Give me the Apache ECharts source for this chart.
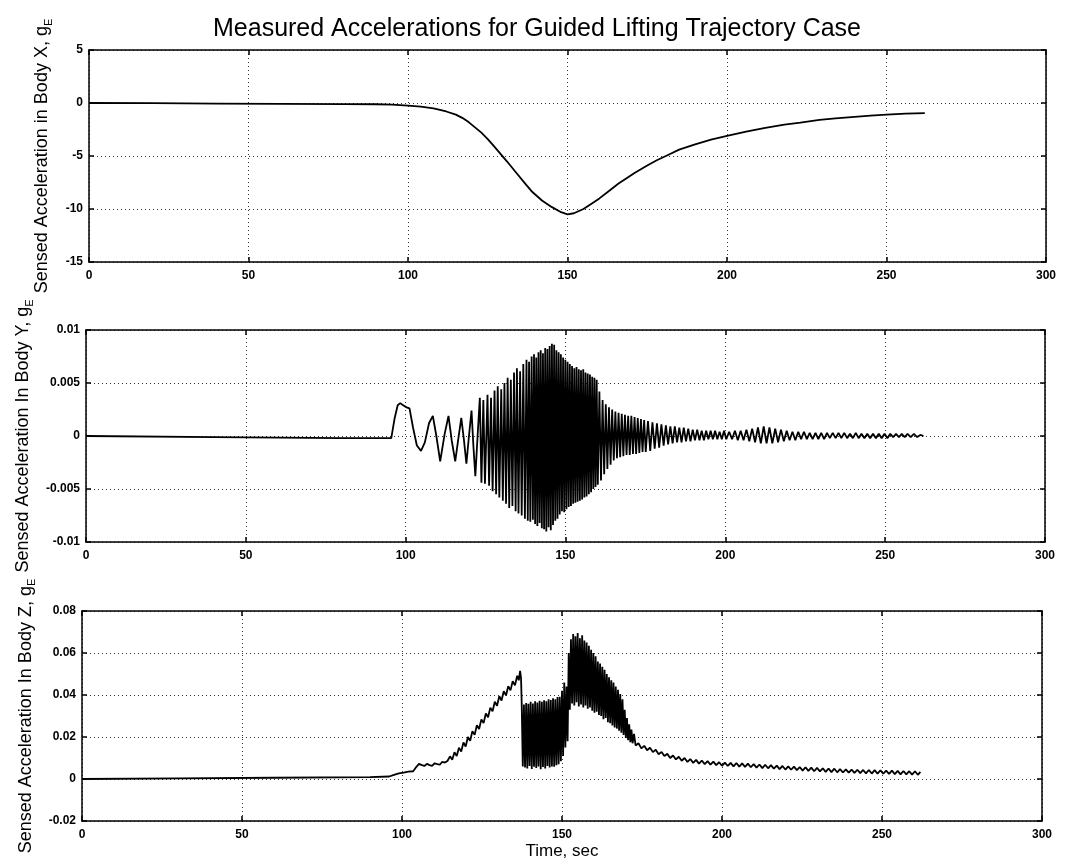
<!DOCTYPE html>
<html>
<head>
<meta charset="utf-8">
<script src="https://cdn.jsdelivr.net/npm/echarts@6/dist/echarts.min.js"></script>
<style>
html,body{margin:0;padding:0;background:#fff;}
#c{width:1074px;height:867px;}
</style>
</head>
<body>
<div id="c"></div>
<script>
// ---------- DATA ----------
var titleText = 'Measured Accelerations for Guided Lifting Trajectory Case';
var xTicks = [0, 50, 100, 150, 200, 250, 300];
var yNames = ['Sensed Acceleration in Body X, g', 'Sensed Acceleration In Body Y, g', 'Sensed Acceleration In Body Z, g'];
var yRanges = [[-15, 5, 5], [-0.01, 0.01, 0.005], [-0.02, 0.08, 0.02]];
var xTitle = 'Time, sec';

// Body X acceleration [time s, g]
var accelX = [[0,0],[20,-0.02],[40,-0.05],[60,-0.08],[80,-0.1],[90,-0.12],[95,-0.15],[100,-0.25],[104,-0.35],[108,-0.5],[112,-0.8],[115,-1.1],[117,-1.4],[119,-1.8],[121,-2.3],[123,-2.8],[125,-3.4],[127,-4.1],[129,-4.8],[131,-5.5],[134,-6.6],[137,-7.7],[139,-8.4],[142,-9.2],[145,-9.8],[148,-10.3],[150,-10.5],[152,-10.4],[155,-10.0],[158,-9.4],[160,-9.0],[163,-8.3],[166,-7.6],[169,-7.0],[171,-6.6],[175,-5.9],[178,-5.4],[181.5,-4.9],[185,-4.4],[190,-3.9],[195,-3.45],[200,-3.1],[206,-2.7],[212,-2.35],[218,-2.05],[223,-1.85],[229,-1.6],[234,-1.45],[240,-1.3],[245,-1.2],[250,-1.1],[256,-1.0],[262,-0.95]];

// Body Y acceleration [time s, g]
var accelY = [[0,0],[40,-0.0001],[80,-0.0002],[95.5,-0.0002],[96.5,0.0016],[97.5,0.0029],[98.3,0.0031],[99.2,0.0029],[100.3,0.0027],[101.2,0.0026],[102.3,0.0008],[103.5,-0.0009],[104.8,-0.0014],[106,-0.0006],[107.3,0.0012],[108.5,0.0019],[109.6,0.0],[110.8,-0.0024],[112.2,0.0002],[113.4,0.0019],[114.4,-0.0004],[115.5,-0.0024],[116.5,-0.0002],[117.4,0.0017],[118.2,-0.0003],[119,-0.0026],[119.8,0.0],[120.6,0.0024],[121.2,-0.001],[121.8,-0.0038],[122.5,0.0],[123.2,0.0036],[123.7,-0.0044],[124.3,0.0034],[124.8,-0.0045],[125.6,0.0039],[126.1,-0.0047],[126.7,0.0036],[127.2,-0.0052],[127.8,0.0043],[128.3,-0.0055],[128.8,0.0047],[129.3,-0.0058],[129.9,0.0044],[130.4,-0.0061],[130.9,0.0050],[131.4,-0.0064],[131.9,0.0055],[132.4,-0.0068],[132.9,0.0053],[133.4,-0.0066],[133.9,0.0060],[134.4,-0.0071],[134.8,0.0064],[135.3,-0.0073],[135.8,0.0061],[136.3,-0.0075],[136.8,0.0068],[137.3,-0.0078],[137.8,0.0072],[138.2,-0.0080],[138.6,0.0070],[139.0,-0.0081],[139.4,0.0075],[139.8,-0.0079],
[140.15,0.0077],[140.5,-0.0083],[140.85,0.0074],[141.2,-0.0085],[141.55,0.0079],[141.9,-0.0082],[142.25,0.0081],[142.6,-0.0087],[142.95,0.0078],[143.3,-0.0088],[143.65,0.0083],[144.0,-0.0090],[144.35,0.0082],[144.7,-0.0086],[145.05,0.0085],[145.4,-0.0089],[145.75,0.0087],[146.1,-0.0084],[146.45,0.0086],[146.8,-0.0080],[147.15,0.0081],[147.5,-0.0078],[147.85,0.0079],[148.2,-0.0074],[148.55,0.0077],[148.9,-0.0071],[149.25,0.0074],[149.6,-0.0072],[149.95,0.0072],[150.3,-0.0069],[150.65,0.0070],[151.0,-0.0067],[151.35,0.0068],[151.7,-0.0066],[152.05,0.0066],[152.4,-0.0064],[152.75,0.0064],[153.1,-0.0063],[153.45,0.0065],[153.8,-0.0062],[154.15,0.0063],[154.5,-0.0061],[154.85,0.0062],[155.2,-0.0060],[155.55,0.0063],[155.9,-0.0058],[156.25,0.0060],[156.6,-0.0057],[156.95,0.0059],[157.3,-0.0055],[157.65,0.0058],[158.0,-0.0053],[158.35,0.0056],[158.7,-0.0050],[159.05,0.0055],[159.4,-0.0048],[159.75,0.0053],[160.1,-0.0046],
[160.6,0.0042],[161.1,-0.0042],[161.6,0.0034],[162.1,-0.0036],[162.6,0.0030],[163.1,-0.0031],[163.6,0.0027],[164.1,-0.0027],[164.6,0.0025],[165.1,-0.0023],[165.6,0.0023],[166.1,-0.0021],[166.6,0.0022],[167.1,-0.0020],[167.6,0.0021],[168.1,-0.0019],[168.6,0.0020],[169.1,-0.0018],[169.6,0.0019],[170.1,-0.0018],[170.6,0.0019],[171.1,-0.0017],[171.6,0.0018],[172.1,-0.0017],[172.6,0.0017],[173.1,-0.0016],[173.6,0.0016],[174.1,-0.0015],[174.6,0.0015],[175.1,-0.0015],
[175.8,0.0014],[176.5,-0.0014],[177.2,0.0013],[177.9,-0.0012],[178.6,0.0012],[179.3,-0.0011],[180,0.0011],[180.7,-0.0009],[181.4,0.0010],[182.1,-0.0008],[182.8,0.0009],[183.5,-0.0007],[184.2,0.0009],[184.9,-0.0006],[185.6,0.0008],[186.3,-0.0006],[187,0.0008],[187.7,-0.0005],[188.4,0.0007],[189.1,-0.0005],[189.8,0.0006],[190.5,-0.0004],[191.2,0.0006],[191.9,-0.0004],[192.6,0.0005],[193.3,-0.0004],[194,0.0005],[194.7,-0.0003],[195.4,0.0005],[196.1,-0.0003],[196.8,0.0005],[197.5,-0.0003],[198.2,0.0004],[198.9,-0.0003],[199.6,0.0005],[200.3,-0.0003],
[201.2,0.0004],[202.1,-0.0003],[203,0.0005],[203.9,-0.0004],[204.8,0.0005],[205.7,-0.0004],[206.6,0.0006],[207.5,-0.0005],[208.4,0.0007],[209.3,-0.0006],[210.2,0.0008],[211.1,-0.0007],[212,0.0009],[212.9,-0.0007],[213.8,0.0008],[214.7,-0.0007],[215.6,0.0007],[216.5,-0.0006],[217.4,0.0006],[218.3,-0.0005],[219.2,0.0005],[220.1,-0.0004],[221,0.0004],[221.9,-0.0004],[222.8,0.0004],[223.7,-0.0003],[224.6,0.0004],[225.5,-0.0003],[226.4,0.0003],[227.3,-0.0003],[228.2,0.0003],[229.1,-0.0003],[230,0.0003],[230.9,-0.0003],[231.8,0.0003],[232.7,-0.0002],[233.6,0.0003],[234.5,-0.0002],[235.4,0.0003],[236.3,-0.0002],[237.2,0.0003],[238.1,-0.0002],[239,0.0002],[239.9,-0.0002],[240.8,0.0003],[241.7,-0.0002],[242.6,0.0002],[243.5,-0.0002],[244.4,0.0002],[245.3,-0.0002],[246.2,0.0002],[247.1,-0.0002],[248,0.0002],[248.9,-0.0002],[249.8,0.0002],[250.7,-0.0002],[251.6,0.0002],[252.5,-0.0001],[253.4,0.0002],[254.3,-0.0001],[255.2,0.0002],[256.1,-0.0001],[257,0.0002],[258,-0.0001],[259,0.0002],[260,-0.0001],[261,0.0001],[262,0.0]];

// Body Z acceleration [time s, g]
var accelZ = [[0,0],[30,0.0003],[60,0.0006],[90,0.0009],[96,0.0012],[97.5,0.002],[99,0.0027],[100.5,0.003],[102,0.0035],[103.5,0.0037],[104.5,0.0058],[105.3,0.0072],[106.2,0.0066],[107,0.0062],[107.8,0.0072],[108.6,0.0066],[109.4,0.0063],[110.2,0.0075],[111,0.0071],[111.8,0.0068],[112.6,0.0082],[113.4,0.0078],[114.2,0.0086],
[115.0,0.0108],[115.7,0.0092],[116.4,0.0127],[117.1,0.0110],[117.8,0.0149],[118.5,0.0131],[119.2,0.0174],[119.9,0.0155],[120.6,0.0200],[121.3,0.0182],[122.0,0.0228],[122.7,0.0210],[123.4,0.0256],[124.1,0.0238],[124.8,0.0284],[125.5,0.0266],[126.2,0.0312],[126.9,0.0294],[127.6,0.0340],[128.3,0.0322],[129.0,0.0368],[129.7,0.0349],[130.4,0.0394],[131.1,0.0374],[131.8,0.0418],[132.5,0.0398],[133.2,0.0442],[133.9,0.0422],[134.6,0.0466],[135.3,0.0446],[136.0,0.0492],[136.5,0.0470],[136.9,0.0515],[137.2,0.0480],
[137.4,0.0365],[137.75,0.0060],[138.1,0.0355],[138.45,0.0055],[138.8,0.0362],[139.15,0.0050],[139.5,0.0358],[139.85,0.0062],[140.2,0.0368],[140.55,0.0048],[140.9,0.0360],[141.25,0.0058],[141.6,0.0370],[141.95,0.0052],[142.3,0.0364],[142.65,0.0060],[143.0,0.0372],[143.35,0.0047],[143.7,0.0368],[144.05,0.0057],[144.4,0.0375],[144.75,0.0050],[145.1,0.0370],[145.45,0.0062],[145.8,0.0380],[146.15,0.0055],[146.5,0.0376],[146.85,0.0060],[147.2,0.0385],[147.55,0.0058],[147.9,0.0380],[148.25,0.0065],[148.6,0.0390],[148.95,0.0070],[149.3,0.0392],[149.65,0.0085],[150.0,0.0420],[150.35,0.0110],[150.7,0.0460],[151.05,0.0150],[151.4,0.0440],[151.75,0.0180],
[152.1,0.0600],[152.45,0.0330],[152.8,0.0665],[153.15,0.0360],[153.5,0.0690],[153.85,0.0350],[154.2,0.0680],[154.55,0.0365],[154.9,0.0695],[155.25,0.0345],[155.6,0.0670],[155.95,0.0355],[156.3,0.0685],[156.65,0.0340],[157.0,0.0660],[157.35,0.0350],[157.7,0.0650],[158.05,0.0335],[158.4,0.0635],[158.75,0.0340],[159.1,0.0615],[159.45,0.0325],[159.8,0.0600],[160.15,0.0315],[160.5,0.0585],[160.85,0.0320],[161.2,0.0560],[161.55,0.0305],[161.9,0.0550],[162.25,0.0300],[162.6,0.0535],[162.95,0.0285],[163.3,0.0520],[163.65,0.0290],[164.0,0.0500],[164.35,0.0270],[164.7,0.0485],[165.05,0.0265],[165.4,0.0470],[165.75,0.0255],[166.1,0.0460],[166.45,0.0245],[166.8,0.0440],[167.15,0.0240],[167.5,0.0425],[167.85,0.0230],[168.2,0.0405],[168.55,0.0220],[168.9,0.0380],[169.25,0.0210],[169.6,0.0330],[169.95,0.0195],[170.3,0.0290],[170.65,0.0185],[171.0,0.0260],[171.35,0.0175],[171.7,0.0235],[172.05,0.0170],[172.5,0.0215],[173.0,0.0160],
[173.9,0.0170],[174.8,0.0146],[175.7,0.0158],[176.6,0.0137],[177.5,0.0149],[178.4,0.0128],[179.3,0.0139],[180.2,0.0118],[181.1,0.0129],[182.0,0.0109],[182.9,0.0120],[183.8,0.0100],[184.7,0.0112],[185.6,0.0093],[186.5,0.0106],[187.4,0.0087],[188.3,0.0100],[189.2,0.0081],[190.1,0.0095],[191.0,0.0077],[191.9,0.0091],[192.8,0.0073],[193.7,0.0088],[194.6,0.0071],[195.5,0.0085],[196.4,0.0068],[197.3,0.0083],[198.2,0.0066],[199.1,0.0080],[200.0,0.0063],[200.9,0.0078],[201.8,0.0062],[202.7,0.0077],[203.6,0.0060],[204.5,0.0076],[205.4,0.0059],[206.3,0.0074],[207.2,0.0058],[208.1,0.0073],[209.0,0.0056],[209.9,0.0071],[210.8,0.0054],[211.7,0.0069],[212.6,0.0052],[213.5,0.0068],[214.4,0.0051],[215.3,0.0066],[216.2,0.0049],[217.1,0.0064],[218.0,0.0047],[218.9,0.0062],[219.8,0.0045],[220.7,0.0060],[221.6,0.0044],[222.5,0.0059],[223.4,0.0042],[224.3,0.0057],[225.2,0.0040],[226.1,0.0056],[227.0,0.0039],[227.9,0.0054],[228.8,0.0037],[229.7,0.0053],[230.6,0.0036],[231.5,0.0051],[232.4,0.0034],[233.3,0.0050],[234.2,0.0033],[235.1,0.0049],[236.0,0.0032],[236.9,0.0047],[237.8,0.0031],[238.7,0.0046],[239.6,0.0030],[240.5,0.0045],[241.4,0.0029],[242.3,0.0044],[243.2,0.0028],[244.1,0.0043],[245.0,0.0027],[245.9,0.0043],[246.8,0.0026],[247.7,0.0042],[248.6,0.0026],[249.5,0.0041],[250.4,0.0025],[251.3,0.0040],[252.2,0.0024],[253.1,0.0040],[254.0,0.0023],[254.9,0.0039],[255.8,0.0022],[256.7,0.0038],[257.6,0.0022],[258.5,0.0037],[259.4,0.0021],[260.3,0.0037],[261.2,0.0020],[262.0,0.0034]];

var seriesData = [accelX, accelY, accelZ];

// ---------- LAYOUT ----------
var FONT = '"Liberation Sans", Arial, Helvetica, sans-serif';
var grids = [
  {left: 89, top: 50, width: 957, height: 212},
  {left: 86, top: 330, width: 959, height: 212},
  {left: 82, top: 611, width: 960, height: 210}
];
var nameGaps = [38, 51, 45];

var xAxes = [], yAxes = [], series = [];
grids.forEach(function (g, i) {
  var common = {
    gridIndex: i, type: 'value', min: xTicks[0], max: xTicks[xTicks.length - 1],
    interval: xTicks[1] - xTicks[0],
    axisLine: {show: true, onZero: false, lineStyle: {color: '#000', width: 1.5}},
    axisTick: {show: true, inside: true, length: 5, lineStyle: {color: '#000', width: 1.5}}
  };
  xAxes.push(Object.assign({}, common, {
    position: 'bottom',
    axisLabel: {color: '#000', fontFamily: FONT, fontWeight: 'bold', fontSize: 12, margin: 8},
    splitLine: {show: true, lineStyle: {color: '#333', type: [1, 3], width: 1}},
    name: i === 2 ? xTitle : '',
    nameLocation: 'middle', nameGap: 22,
    nameTextStyle: {color: '#000', fontFamily: FONT, fontSize: 17}
  }));
  xAxes.push(Object.assign({}, common, {
    position: 'top', axisLabel: {show: false}, splitLine: {show: false}
  }));
  var r = yRanges[i];
  var ycommon = {
    gridIndex: i, type: 'value', min: r[0], max: r[1], interval: r[2],
    axisLine: {show: true, onZero: false, lineStyle: {color: '#000', width: 1.5}},
    axisTick: {show: true, inside: true, length: 5, lineStyle: {color: '#000', width: 1.5}}
  };
  yAxes.push(Object.assign({}, ycommon, {
    position: 'left',
    axisLabel: {color: '#000', fontFamily: FONT, fontWeight: 'bold', fontSize: 12, margin: 6},
    splitLine: {show: true, lineStyle: {color: '#333', type: [1, 3], width: 1}},
    name: '{n|' + yNames[i] + '}{s|E}',
    nameLocation: 'middle', nameRotate: 90, nameGap: nameGaps[i],
    nameTextStyle: {
      color: '#000', fontFamily: FONT, fontSize: 18,
      rich: {
        n: {color: '#000', fontFamily: FONT, fontSize: 18},
        s: {color: '#000', fontFamily: FONT, fontSize: 11, verticalAlign: 'bottom', padding: [0, 0, -3, 0]}
      }
    }
  }));
  yAxes.push(Object.assign({}, ycommon, {
    position: 'right', axisLabel: {show: false}, splitLine: {show: false}
  }));
  series.push({
    type: 'line', xAxisIndex: 2 * i, yAxisIndex: 2 * i,
    data: seriesData[i], showSymbol: false, symbol: 'none',
    lineStyle: {color: '#000', width: 1.8}, sampling: null, silent: true
  });
});

var chart = echarts.init(document.getElementById('c'), null, {renderer: 'canvas'});
chart.setOption({
  animation: false,
  backgroundColor: '#fff',
  title: {
    text: titleText, left: 'center', top: 12,
    textStyle: {color: '#000', fontFamily: FONT, fontSize: 25, fontWeight: 'normal'}
  },
  grid: grids.map(function (g) { return Object.assign({containLabel: false}, g); }),
  xAxis: xAxes,
  yAxis: yAxes,
  series: series
});
</script>
</body>
</html>
